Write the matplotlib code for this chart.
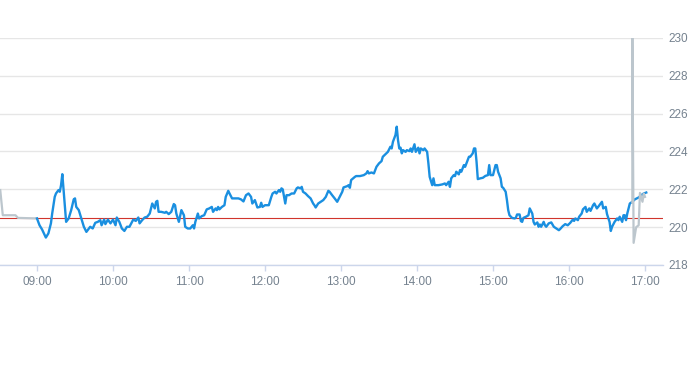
import matplotlib
matplotlib.use("Agg")
import matplotlib.pyplot as plt

# pre-market trades (grey)
pre_times = ["08:31", "08:33", "08:43", "08:45", "09:00"]
pre_prices = [221.96, 220.63, 220.63, 220.49, 220.46]

# regular session (blue)
day_times = [
    "09:00", "09:02", "09:04", "09:07", "09:09", "09:11", "09:12", "09:14", "09:15", "09:17",
    "09:18", "09:19", "09:20", "09:21", "09:22", "09:23", "09:25", "09:27", "09:29", "09:30",
    "09:31", "09:33", "09:35", "09:37", "09:39", "09:40", "09:42", "09:44", "09:46", "09:48",
    "09:50", "09:51", "09:53", "09:54", "09:56", "09:58", "10:00", "10:02", "10:03", "10:05",
    "10:07", "10:09", "10:11", "10:13", "10:16", "10:18", "10:20", "10:21", "10:23", "10:25",
    "10:27", "10:29", "10:31", "10:33", "10:34", "10:35", "10:36", "10:38", "10:41", "10:42",
    "10:44", "10:46", "10:48", "10:49", "10:50", "10:52", "10:54", "10:56", "10:57", "10:59",
    "11:01", "11:03", "11:04", "11:05", "11:07", "11:08", "11:10", "11:12", "11:14", "11:16",
    "11:18", "11:19", "11:21", "11:22", "11:23", "11:24", "11:26", "11:28", "11:29", "11:31",
    "11:32", "11:34", "11:36", "11:39", "11:41", "11:43", "11:45", "11:47", "11:49", "11:50",
    "11:52", "11:54", "11:56", "11:57", "11:58", "12:00", "12:03", "12:05", "12:06", "12:08",
    "12:09", "12:11", "12:12", "12:13", "12:14", "12:16", "12:17", "12:19", "12:21", "12:23",
    "12:25", "12:26", "12:28", "12:29", "12:30", "12:32", "12:34", "12:36", "12:38", "12:39",
    "12:40", "12:42", "12:44", "12:46", "12:48", "12:50", "12:51", "12:53", "12:55", "12:57",
    "12:59", "13:01", "13:02", "13:05", "13:06", "13:07", "13:08", "13:11", "13:12", "13:15",
    "13:18", "13:20", "13:21", "13:22", "13:24", "13:26", "13:27", "13:28", "13:30", "13:32",
    "13:33", "13:35", "13:37", "13:39", "13:40", "13:41", "13:43", "13:44", "13:45", "13:46",
    "13:47", "13:48", "13:49", "13:51", "13:52", "13:54", "13:55", "13:56", "13:58", "13:59",
    "14:01", "14:02", "14:03", "14:05", "14:06", "14:08", "14:09", "14:10", "14:12", "14:13",
    "14:14", "14:17", "14:20", "14:22", "14:23", "14:25", "14:26", "14:27", "14:29", "14:30",
    "14:31", "14:33", "14:34", "14:35", "14:37", "14:38", "14:39", "14:41", "14:42", "14:44",
    "14:45", "14:46", "14:47", "14:48", "14:50", "14:52", "14:54", "14:56", "14:57", "14:58",
    "15:00", "15:02", "15:03", "15:04", "15:06", "15:07", "15:08", "15:10", "15:11", "15:12",
    "15:13", "15:15", "15:17", "15:18", "15:19", "15:21", "15:22", "15:23", "15:24", "15:26",
    "15:28", "15:29", "15:31", "15:32", "15:33", "15:35", "15:36", "15:37", "15:38", "15:40",
    "15:41", "15:42", "15:44", "15:46", "15:48", "15:50", "15:52", "15:53", "15:55", "15:57",
    "15:59", "16:01", "16:03", "16:04", "16:05", "16:07", "16:08", "16:10", "16:11", "16:13",
    "16:14", "16:16", "16:17", "16:19", "16:20", "16:22", "16:23", "16:24", "16:26", "16:27",
    "16:29", "16:30", "16:32", "16:33", "16:34", "16:36", "16:38", "16:39", "16:40", "16:42",
    "16:43", "16:44", "16:45", "16:46", "16:48", "16:50", "16:52", "16:55", "16:57", "16:59",
    "17:01",
]
day_prices = [
    220.46, 220.10, 219.88, 219.45, 219.67, 220.20, 220.72, 221.60, 221.78, 221.96,
    221.87, 222.22, 222.80, 221.96, 221.07, 220.28, 220.46, 220.90, 221.47, 221.52,
    221.07, 220.90, 220.46, 220.02, 219.75, 219.84, 220.02, 219.93, 220.23, 220.28,
    220.37, 220.10, 220.40, 220.16, 220.40, 220.20, 220.40, 220.10, 220.51, 220.28,
    219.93, 219.80, 220.02, 220.02, 220.40, 220.33, 220.51, 220.20, 220.37, 220.51,
    220.55, 220.72, 221.25, 220.99, 221.34, 221.39, 220.81, 220.81, 220.76, 220.81,
    220.69, 220.81, 221.22, 221.16, 220.72, 220.28, 220.90, 220.63, 220.02, 219.93,
    219.93, 220.10, 219.93, 220.28, 220.72, 220.46, 220.58, 220.63, 220.94, 220.99,
    221.07, 220.81, 220.99, 220.90, 221.07, 220.94, 221.07, 221.16, 221.60, 221.92,
    221.78, 221.52, 221.52, 221.52, 221.47, 221.36, 221.69, 221.78, 221.60, 221.25,
    221.43, 221.04, 221.07, 221.29, 221.07, 221.16, 221.16, 221.60, 221.78, 221.87,
    221.78, 221.96, 221.87, 222.05, 222.00, 221.25, 221.69, 221.69, 221.78, 221.78,
    222.05, 222.10, 222.05, 222.13, 221.87, 221.78, 221.64, 221.52, 221.25, 221.16,
    221.04, 221.25, 221.34, 221.43, 221.60, 221.92, 221.87, 221.69, 221.52, 221.34,
    221.60, 221.87, 222.10, 222.17, 222.22, 222.08, 222.49, 222.66, 222.70, 222.70,
    222.75, 222.84, 222.96, 222.84, 222.89, 222.84, 223.02, 223.19, 223.37, 223.49,
    223.72, 223.85, 223.98, 224.25, 224.16, 224.51, 224.87, 225.31, 224.60, 224.16,
    224.20, 223.90, 224.07, 223.98, 224.07, 224.02, 224.16, 223.98, 224.38, 223.98,
    224.20, 223.90, 224.16, 224.07, 224.16, 223.98, 223.37, 222.66, 222.22, 222.58,
    222.22, 222.22, 222.26, 222.31, 222.22, 222.40, 222.13, 222.58, 222.75, 222.70,
    222.93, 222.79, 223.02, 222.93, 223.28, 223.19, 223.37, 223.72, 223.72, 223.90,
    224.16, 224.16, 223.46, 222.54, 222.58, 222.61, 222.71, 222.75, 223.28, 222.75,
    222.75, 223.28, 223.28, 222.93, 222.58, 222.13, 222.08, 221.87, 221.43, 220.90,
    220.63, 220.49, 220.46, 220.49, 220.67, 220.67, 220.32, 220.28, 220.49, 220.55,
    220.63, 220.99, 220.72, 220.28, 220.14, 220.25, 220.02, 220.14, 220.02, 220.28,
    220.10, 220.02, 220.20, 220.25, 220.02, 219.93, 219.84, 219.90, 220.05, 220.16,
    220.10, 220.23, 220.40, 220.33, 220.46, 220.37, 220.55, 220.72, 220.94, 221.07,
    220.81, 220.99, 220.86, 221.16, 221.25, 220.99, 221.07, 221.16, 221.34, 220.99,
    221.07, 220.69, 220.28, 219.80, 220.02, 220.28, 220.46, 220.37, 220.55, 220.28,
    220.63, 220.63, 220.37, 220.72, 221.25, 221.34, 221.47, 221.57, 221.69, 221.78,
    221.83,
]

# after-hours trades (grey)
post_times = ["16:50", "16:50", "16:51", "16:53", "16:55", "16:56", "16:58", "16:59", "17:00"]
post_prices = [221.30, 230.00, 219.17, 220.00, 220.10, 221.81, 221.34, 221.78, 221.60]

prev_close = 220.46

hour_labels = ["09:00", "10:00", "11:00", "12:00", "13:00", "14:00", "15:00", "16:00", "17:00"]
price_ticks = [218, 220, 222, 224, 226, 228, 230]


def to_min(t):
    h, m = t.split(":")
    return int(h) * 60 + int(m)


plt.rcParams['font.family'] = ['Liberation Sans', 'DejaVu Sans']

fig = plt.figure(figsize=(6.93, 3.65), dpi=100)
ax = fig.add_axes([0.0, 0.274, 663 / 693, 0.622])

ax.plot([to_min(t) for t in pre_times], pre_prices, color="#bcc6cd", lw=1.6, zorder=3)
ax.plot([to_min(t) for t in day_times], day_prices, color="#1a8fe0", lw=1.7, zorder=3)
ax.plot([to_min(t) for t in post_times], post_prices, color="#bcc6cd", lw=1.6, zorder=4)
ax.axhline(prev_close, color="#d0342c", lw=0.8, zorder=2)

ax.set_xlim(510.8, 1034.2)
ax.set_ylim(218, 230)

ax.set_xticks([to_min(t) for t in hour_labels])
ax.set_xticklabels(hour_labels)
ax.set_yticks(price_ticks)
ax.set_yticklabels([str(p) for p in price_ticks])

ax.yaxis.tick_right()
ax.grid(axis="y", color="#e6e6e6", lw=1)
ax.set_axisbelow(True)
for s in ["top", "left", "right"]:
    ax.spines[s].set_visible(False)
ax.spines["bottom"].set_color("#ccd6eb")
ax.spines["bottom"].set_linewidth(1)

ax.tick_params(axis="x", colors="#ccd6eb", length=4, width=1, pad=4,
               labelcolor="#75828f", labelsize=8.5)
ax.tick_params(axis="y", length=0, pad=4, labelcolor="#75828f", labelsize=8.5)

fig.savefig("out.png", dpi=100)
